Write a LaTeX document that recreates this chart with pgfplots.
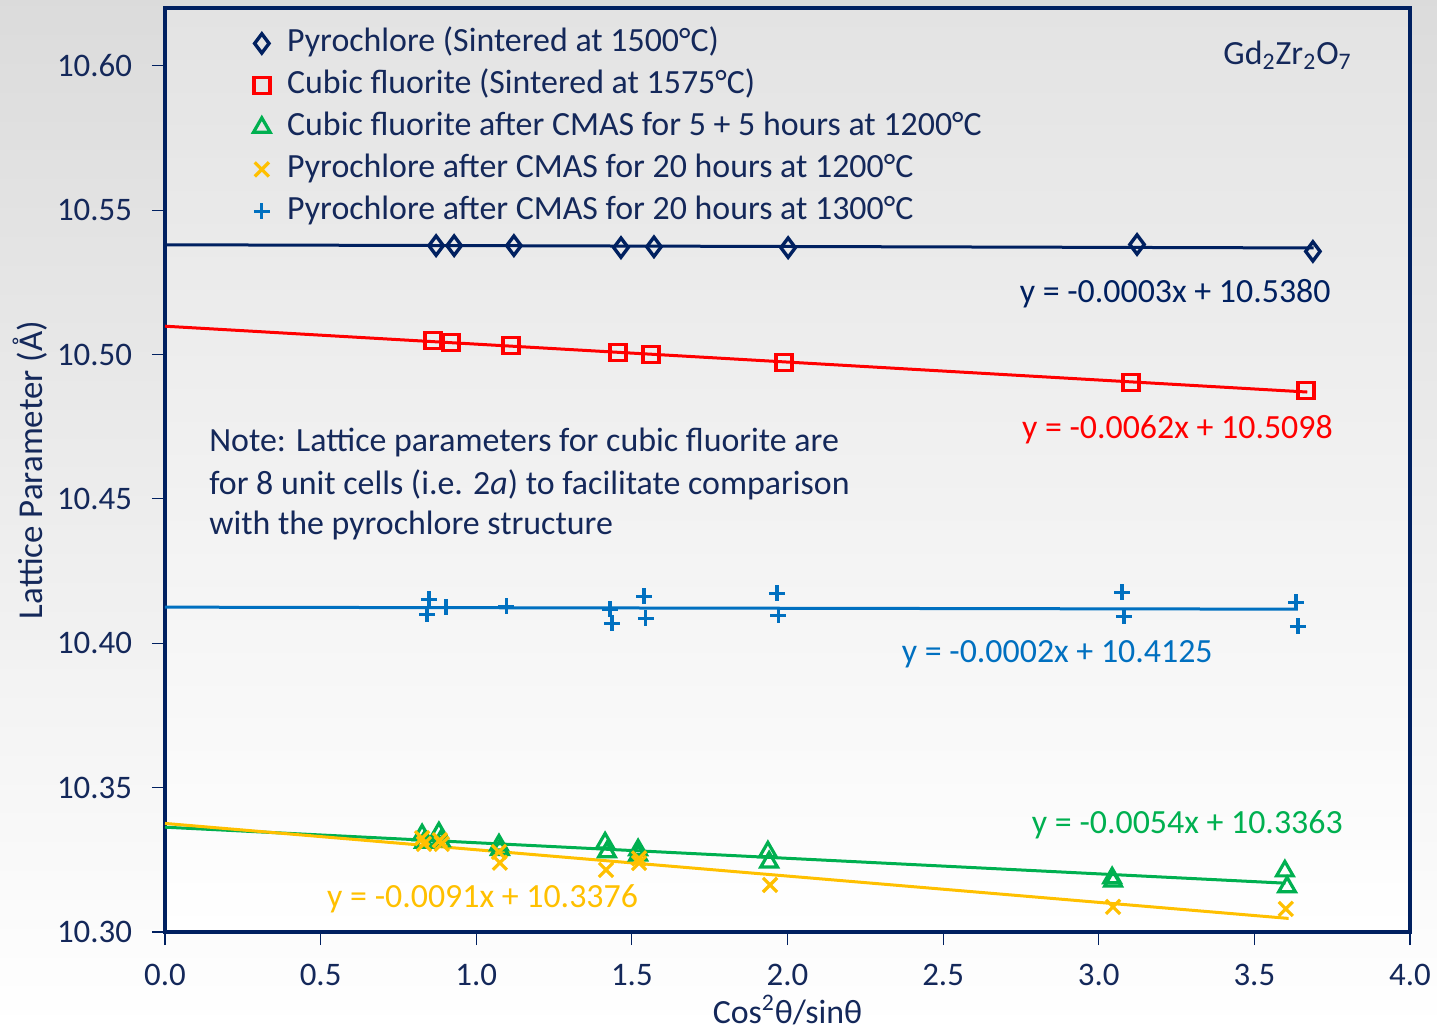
\documentclass[border=0pt]{standalone}
\usepackage{fontspec}
\setmainfont{Carlito}
\usepackage{pgfplots}
\pgfplotsset{compat=1.18}
\definecolor{navy}{HTML}{002060}
\definecolor{txtnavy}{HTML}{14285A}
\definecolor{cred}{HTML}{FF0000}
\definecolor{cgreen}{HTML}{00B050}
\definecolor{cyellow}{HTML}{FFC000}
\definecolor{cblue}{HTML}{0070C0}
\begin{document}
\begin{tikzpicture}
\shade[top color=black!14, bottom color=white] (-82.5bp,-48.5bp) rectangle (636bp,466bp);
\begin{axis}[
  at={(0,0)}, anchor=south west,
  width=622.5bp, height=462bp, scale only axis,
  xmin=0, xmax=4, ymin=10.30, ymax=10.62,
  xtick={0,0.5,1,1.5,2,2.5,3,3.5,4},
  ytick={10.30,10.35,10.40,10.45,10.50,10.55,10.60},
  axis background/.style={top color=black!11, bottom color=white},
  axis line style={navy, line width=2bp},
  tick style={navy, line width=0.6bp},
  major tick length=6.5bp,
  tick align=outside, tick pos=left,
  /pgf/number format/assume math mode=true,
  xticklabel style={/pgf/number format/.cd, fixed, fixed zerofill, precision=1, /tikz/.cd, yshift=-6bp},
  yticklabel style={/pgf/number format/.cd, fixed, fixed zerofill, precision=2, /tikz/.cd, xshift=-6.5bp},
  ticklabel style={font=\fontsize{16.5}{18}\selectfont, text=txtnavy},
  xlabel={Cos\textsuperscript{2}θ/sinθ},
  ylabel={Lattice Parameter (Å)},
  xlabel style={at={(rel axis cs:0.5,-0.0845)}, anchor=center, font=\fontsize{17}{20}\selectfont, text=txtnavy},
  ylabel style={at={(rel axis cs:-0.1084,0.5)}, anchor=center, rotate=0, font=\fontsize{17.5}{20}\selectfont, text=txtnavy},
  legend style={at={(rel axis cs:0.0703,0.9794)}, anchor=north west, draw=none, fill=none, inner sep=0pt,
     font=\fontsize{17}{20}\selectfont, text=txtnavy, row sep=5bp,
     nodes={inner sep=0pt, text height=12bp, text depth=4bp}},
  legend cell align=left,
  legend image code/.code={\path (0cm,0cm) (0.59cm,0cm); \draw[#1] plot coordinates {(0.15cm,0cm)};},
]
% trendlines
\addplot[navy, line width=1.5bp, forget plot] coordinates {(0,10.5380) (3.69,10.5369)};
\addplot[cred, line width=1.5bp, forget plot] coordinates {(0,10.5098) (3.67,10.4870)};
\addplot[cblue, line width=1.5bp, forget plot] coordinates {(0,10.4125) (3.64,10.4118)};
\addplot[cgreen, line width=1.5bp, forget plot] coordinates {(0,10.3363) (3.60,10.3169)};
\addplot[cyellow, line width=1.5bp, forget plot] coordinates {(0,10.3376) (3.61,10.3047)};
% data
\addplot[only marks, mark=diamond, mark size=4.8bp, mark options={navy, line width=1.7bp}] coordinates {
(0.871,10.5377)(0.929,10.5377)(1.121,10.5377)(1.465,10.5370)(1.571,10.5373)(2.002,10.5370)(3.123,10.5381)(3.688,10.5357)};
\addlegendentry{Pyrochlore (Sintered at 1500°C)}
\addplot[only marks, mark=square, mark size=4bp, mark options={cred, line width=1.7bp}] coordinates {
(0.861,10.5048)(0.919,10.5042)(1.112,10.5031)(1.455,10.5007)(1.561,10.5000)(1.989,10.4972)(3.104,10.4903)(3.666,10.4875)};
\addlegendentry{Cubic fluorite (Sintered at 1575°C)}
\addplot[only marks, mark=triangle, mark size=4.8bp, mark options={cgreen, line width=1.6bp}] coordinates {
(0.826,10.3336)(0.832,10.3310)(0.880,10.3343)(0.886,10.3315)(1.073,10.3301)(1.076,10.3285)(1.414,10.3308)(1.420,10.3277)(1.520,10.3284)(1.520,10.3266)(1.937,10.3277)(1.941,10.3242)(3.043,10.3187)(3.046,10.3176)(3.598,10.3211)(3.605,10.3156)};
\addlegendentry{Cubic fluorite after CMAS for 5 + 5 hours at 1200°C}
\addplot[only marks, mark=x, mark size=5bp, mark options={cyellow, line width=1.6bp}] coordinates {
(0.826,10.3325)(0.832,10.3305)(0.883,10.3318)(0.889,10.3305)(1.073,10.3277)(1.076,10.3240)(1.417,10.3215)(1.523,10.3239)(1.523,10.3255)(1.944,10.3163)(3.046,10.3087)(3.601,10.3080)};
\addlegendentry{Pyrochlore after CMAS for 20 hours at 1200°C}
\addplot[only marks, mark=+, mark size=4bp, mark options={cblue, line width=1.6bp}] coordinates {
(0.848,10.4152)(0.842,10.4100)(0.903,10.4125)(1.096,10.4128)(1.430,10.4118)(1.436,10.4069)(1.539,10.4163)(1.545,10.4087)(1.966,10.4173)(1.970,10.4097)(3.075,10.4176)(3.081,10.4093)(3.634,10.4142)(3.640,10.4059)};
\addlegendentry{Pyrochlore after CMAS for 20 hours at 1300°C}
% annotations
\node[anchor=east, text=navy, font=\fontsize{17}{20}\selectfont, inner sep=0pt] at (axis cs:3.746,10.5211) {y = -0.0003x + 10.5380};
\node[anchor=east, text=cred, font=\fontsize{17}{20}\selectfont, inner sep=0pt] at (axis cs:3.753,10.4740) {y = -0.0062x + 10.5098};
\node[anchor=east, text=cblue, font=\fontsize{17}{20}\selectfont, inner sep=0pt] at (axis cs:3.367,10.3962) {y = -0.0002x + 10.4125};
\node[anchor=east, text=cgreen, font=\fontsize{17}{20}\selectfont, inner sep=0pt] at (axis cs:3.785,10.3370) {y = -0.0054x + 10.3363};
\node[anchor=west, text=cyellow, font=\fontsize{17}{20}\selectfont, inner sep=0pt] at (axis cs:0.520,10.3114) {y = -0.0091x + 10.3376};
\node[anchor=east, text=txtnavy, font=\fontsize{17}{20}\selectfont, inner sep=0pt] at (axis cs:3.814,10.6035) {Gd\textsubscript{2}Zr\textsubscript{2}O\textsubscript{7}};
\node[anchor=west, text=txtnavy, font=\fontsize{17}{20}\selectfont, inner sep=0pt] at (axis cs:0.141,10.4696) {Note: Lattice parameters for cubic fluorite are};
\node[anchor=west, text=txtnavy, font=\fontsize{17}{20}\selectfont, inner sep=0pt] at (axis cs:0.141,10.4550) {for 8 unit cells (i.e. 2\textit{a}) to facilitate comparison};
\node[anchor=west, text=txtnavy, font=\fontsize{17}{20}\selectfont, inner sep=0pt] at (axis cs:0.141,10.4408) {with the pyrochlore structure};
\end{axis}
\pgfresetboundingbox
\path (-82.5bp,-48.5bp) rectangle (636bp,466bp);
\end{tikzpicture}
\end{document}
